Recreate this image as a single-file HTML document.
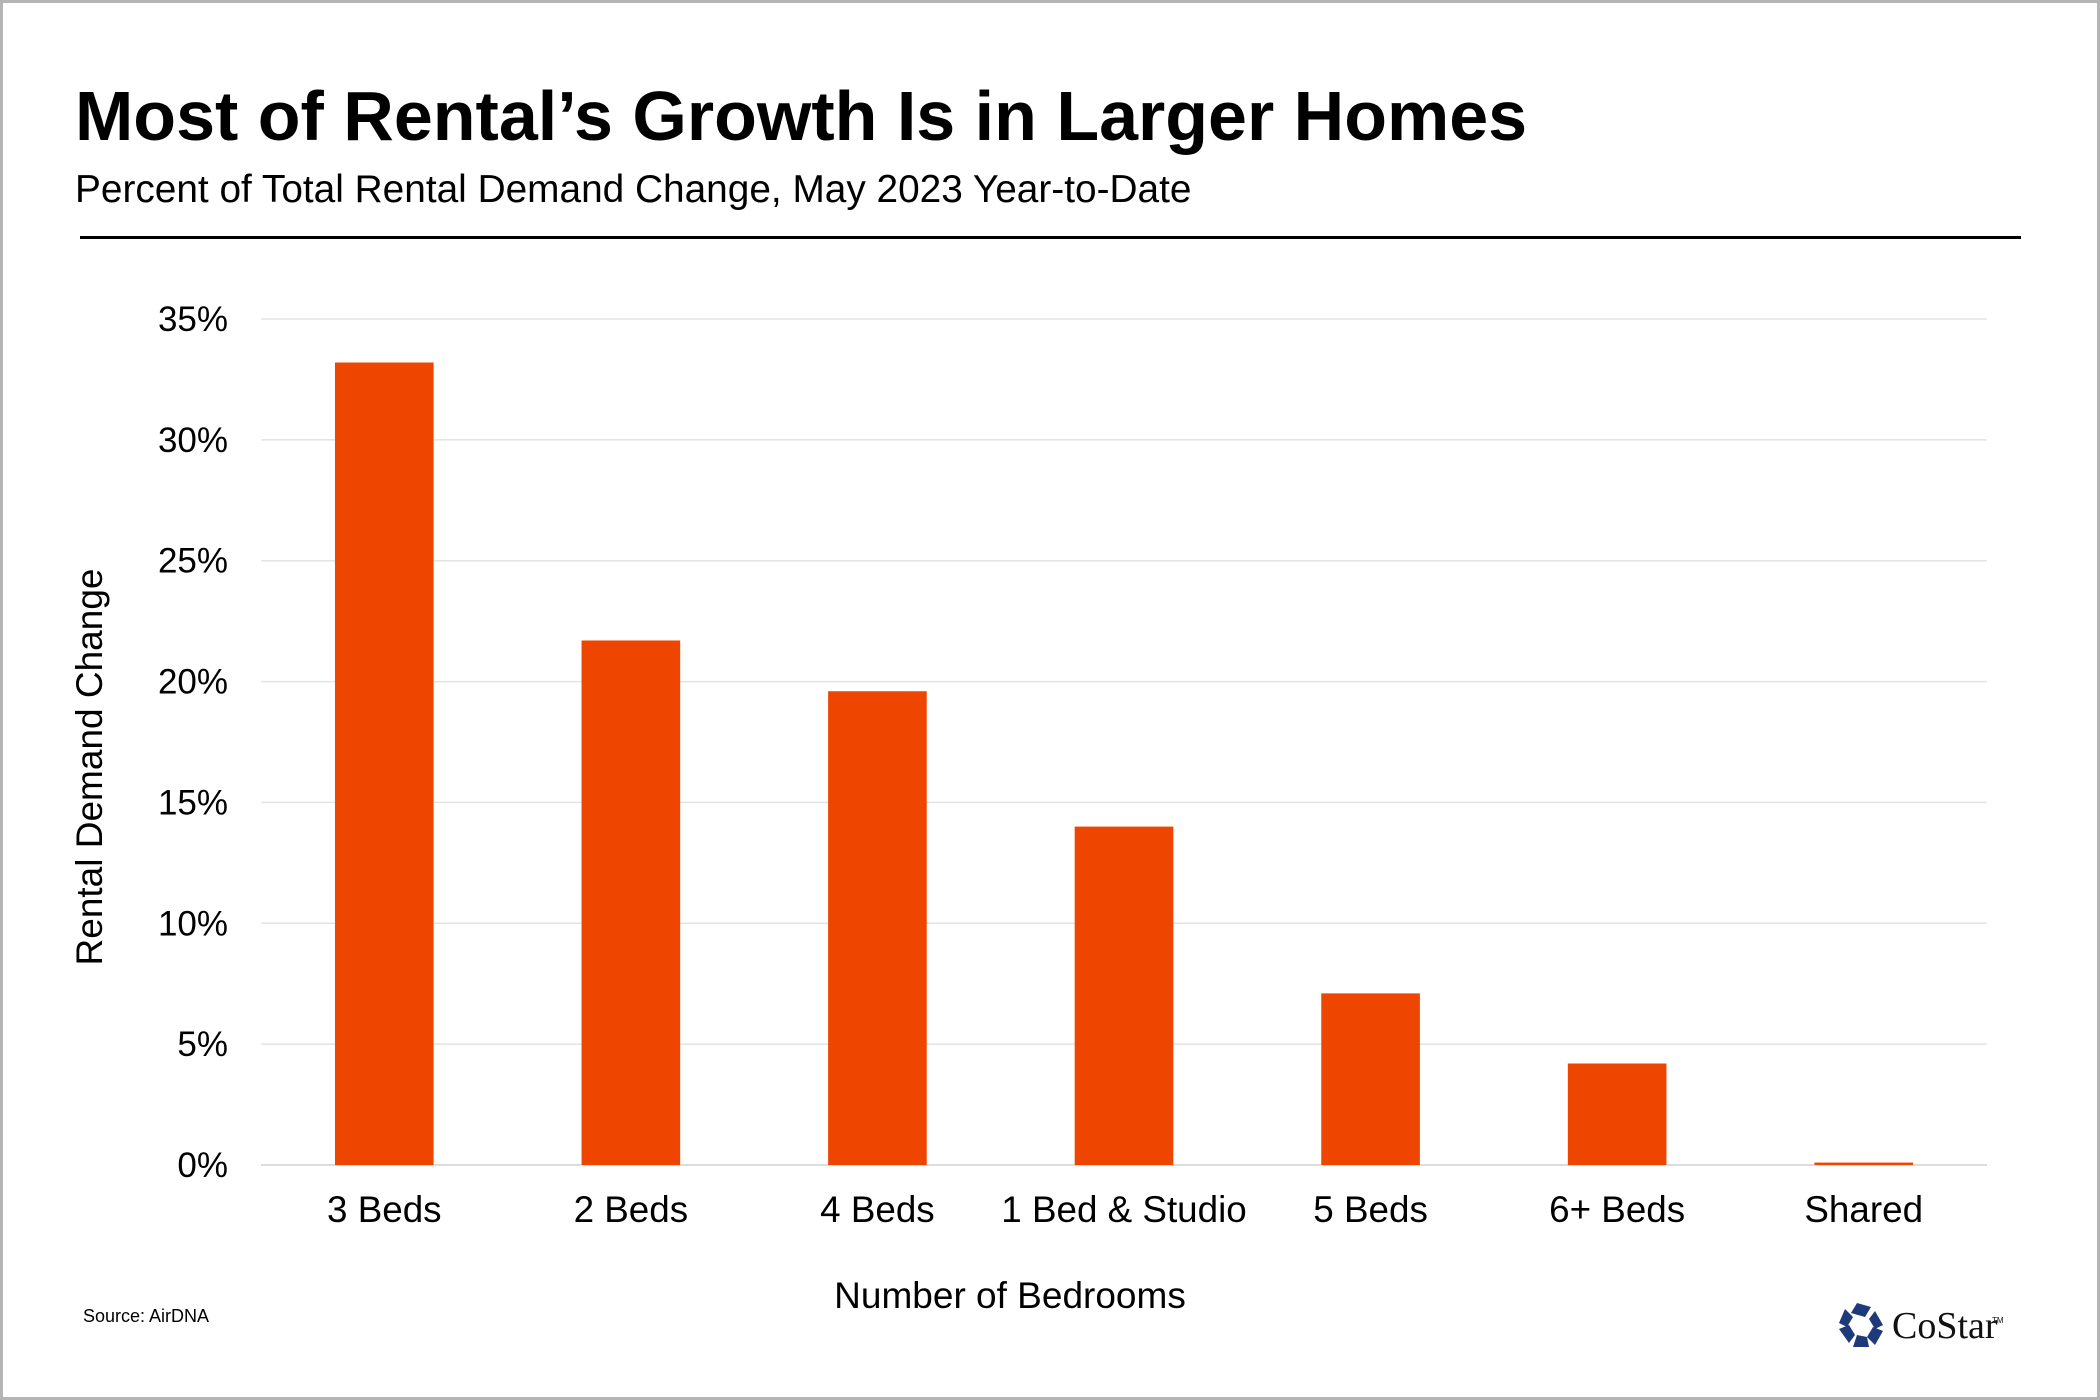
<!DOCTYPE html>
<html><head><meta charset="utf-8"><style>
html,body{margin:0;padding:0;background:#fff}
svg{display:block}
</style></head><body>
<svg id="chart" width="2100" height="1400" viewBox="0 0 2100 1400" xmlns="http://www.w3.org/2000/svg">
<rect x="1.5" y="1.5" width="2097" height="1397" fill="#fff" stroke="#b5b5b5" stroke-width="3"/>
<text x="75" y="140" font-family="Liberation Sans, sans-serif" font-weight="bold" font-size="70" fill="#000">Most of Rental’s Growth Is in Larger Homes</text>
<text x="75" y="202" font-family="Liberation Sans, sans-serif" font-size="38.8" fill="#000">Percent of Total Rental Demand Change, May 2023 Year-to-Date</text>
<rect x="80" y="236" width="1941" height="3" fill="#000"/>
<g id="grid"></g>
<g id="yticks"></g>
<g id="bars"></g>
<g id="xticks"></g>
<text transform="translate(102,767) rotate(-90)" text-anchor="middle" font-family="Liberation Sans, sans-serif" font-size="37" fill="#000">Rental Demand Change</text>
<text x="1010" y="1308" text-anchor="middle" font-family="Liberation Sans, sans-serif" font-size="37" fill="#000">Number of Bedrooms</text>
<text x="83" y="1322" font-family="Liberation Sans, sans-serif" font-size="18" fill="#000">Source: AirDNA</text>
<g>
<g transform="translate(1861,1325)" fill="#1f3a7a">
<polygon points="-4,-22 10,-18 4,-8 -10,-12"/>
<polygon points="14,-14 22,0 14,4 8,-6"/>
<polygon points="22,6 14,20 6,12 12,2"/>
<polygon points="8,22 -8,22 -4,10 6,12"/>
<polygon points="-12,18 -22,4 -12,0 -6,10"/>
<polygon points="-22,-2 -16,-16 -8,-8 -14,2"/>
</g>
<text x="1892" y="1338" font-family="Liberation Serif, serif" font-size="38" fill="#111">CoStar</text>
<text x="1992" y="1323" font-family="Liberation Sans, sans-serif" font-size="8" fill="#111">TM</text>
</g>
</svg>
<script>
const categories = ["3 Beds","2 Beds","4 Beds","1 Bed & Studio","5 Beds","6+ Beds","Shared"];
const values = [33.2, 21.7, 19.6, 14.0, 7.1, 4.2, 0.1];
const yTicks = [0,5,10,15,20,25,30,35];
const yTickLabels = ["0%","5%","10%","15%","20%","25%","30%","35%"];

const NS = "http://www.w3.org/2000/svg";
const plotL = 261, plotR = 1987, plotT = 319, plotB = 1165, yMax = 35;
const yScale = v => plotB - (v / yMax) * (plotB - plotT);
const band = (plotR - plotL) / categories.length;
const xCenter = i => plotL + band * (i + 0.5);
const barW = band * 0.4;

const grid = document.getElementById('grid');
const yt = document.getElementById('yticks');
yTicks.forEach((t, i) => {
  const y = yScale(t);
  const ln = document.createElementNS(NS, 'line');
  ln.setAttribute('x1', plotL); ln.setAttribute('x2', plotR);
  ln.setAttribute('y1', y); ln.setAttribute('y2', y);
  ln.setAttribute('stroke', t === 0 ? '#d0d0d0' : '#e3e3e3');
  ln.setAttribute('stroke-width', 1.5);
  
  
  grid.appendChild(ln);
  const tx = document.createElementNS(NS, 'text');
  tx.setAttribute('x', 228); tx.setAttribute('y', y + 12);
  tx.setAttribute('text-anchor', 'end');
  tx.setAttribute('font-family', 'Liberation Sans, sans-serif');
  tx.setAttribute('font-size', '35');
  tx.textContent = yTickLabels[i];
  
  
  yt.appendChild(tx);
});

const bars = document.getElementById('bars');
const xt = document.getElementById('xticks');
categories.forEach((c, i) => {
  const v = values[i];
  const r = document.createElementNS(NS, 'rect');
  r.setAttribute('x', xCenter(i) - barW / 2);
  r.setAttribute('width', barW);
  r.setAttribute('y', yScale(v));
  r.setAttribute('height', Math.max(plotB - yScale(v), 1.5));
  r.setAttribute('fill', '#ee4600');
  
  
  bars.appendChild(r);
  const tx = document.createElementNS(NS, 'text');
  tx.setAttribute('x', xCenter(i)); tx.setAttribute('y', 1222);
  tx.setAttribute('text-anchor', 'middle');
  tx.setAttribute('font-family', 'Liberation Sans, sans-serif');
  tx.setAttribute('font-size', '36.8');
  tx.textContent = c;
  
  
  xt.appendChild(tx);
});
</script>
</body></html>
